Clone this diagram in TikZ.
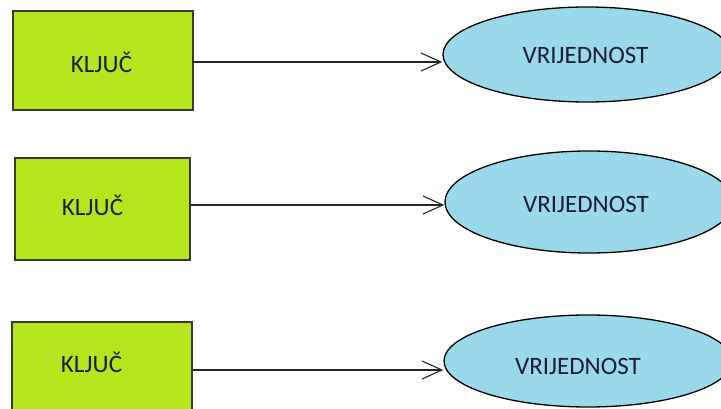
\documentclass[tikz,border=0pt]{standalone}
\usepackage{fontspec}
\setmainfont{Carlito}
\usetikzlibrary{arrows.meta,shapes.geometric}
\definecolor{keygreen}{HTML}{B5E61D}
\definecolor{valblue}{HTML}{99D9EA}
\definecolor{txt}{HTML}{1E1E32}
\begin{document}
\begin{tikzpicture}[x=1pt,y=-1pt,
  keybox/.style={draw=black!78,line width=1.4pt,fill=keygreen,rectangle,inner sep=0pt},
  valell/.style={draw=black,line width=1.3pt,fill=valblue,ellipse,inner sep=0pt,minimum width=288pt},
  lbl/.style={text=txt,font=\fontsize{25}{29}\selectfont},
  conn/.style={draw=black!85,line width=1.2pt,-{Straight Barb[length=20pt,width=18pt,line width=1.1pt]}}]
\useasboundingbox (0,0) rectangle (721,409);
\clip (0,0) rectangle (721,409);
% keys
\node[keybox,minimum width=180pt,minimum height=99pt] (k1) at (103,60.5) {};
\node[lbl] (t1) at (101.5,62) {KLJUČ};
\node[keybox,minimum width=175pt,minimum height=102pt] (k2) at (102.5,209) {};
\node[lbl] (t2) at (92.5,205) {KLJUČ};
\node[keybox,minimum width=180pt,minimum height=96pt] (k3) at (102,370) {};
\node[lbl] (t3) at (91.5,362) {KLJUČ};
% values
\node[valell,minimum height=95pt] (v1) at (587,54.5) {};
\node[lbl] (u1) at (585.5,55) {VRIJEDNOST};
\node[valell,minimum height=102pt] (v2) at (589,202) {};
\node[lbl] (u2) at (586,204) {VRIJEDNOST};
\node[valell,minimum height=92pt] (v3) at (588,361) {};
\node[lbl] (u3) at (578,366) {VRIJEDNOST};
% connectors
\draw[conn] ([yshift=-1.5pt]k1.east) -- ([yshift=-1.5pt]k1.east -| v1.west);
\draw[conn] ([yshift=4pt]k2.east) -- ([yshift=4pt]k2.east -| v2.west);
\draw[conn] (k3.east) -- (k3.east -| v3.west);
\end{tikzpicture}
\end{document}
